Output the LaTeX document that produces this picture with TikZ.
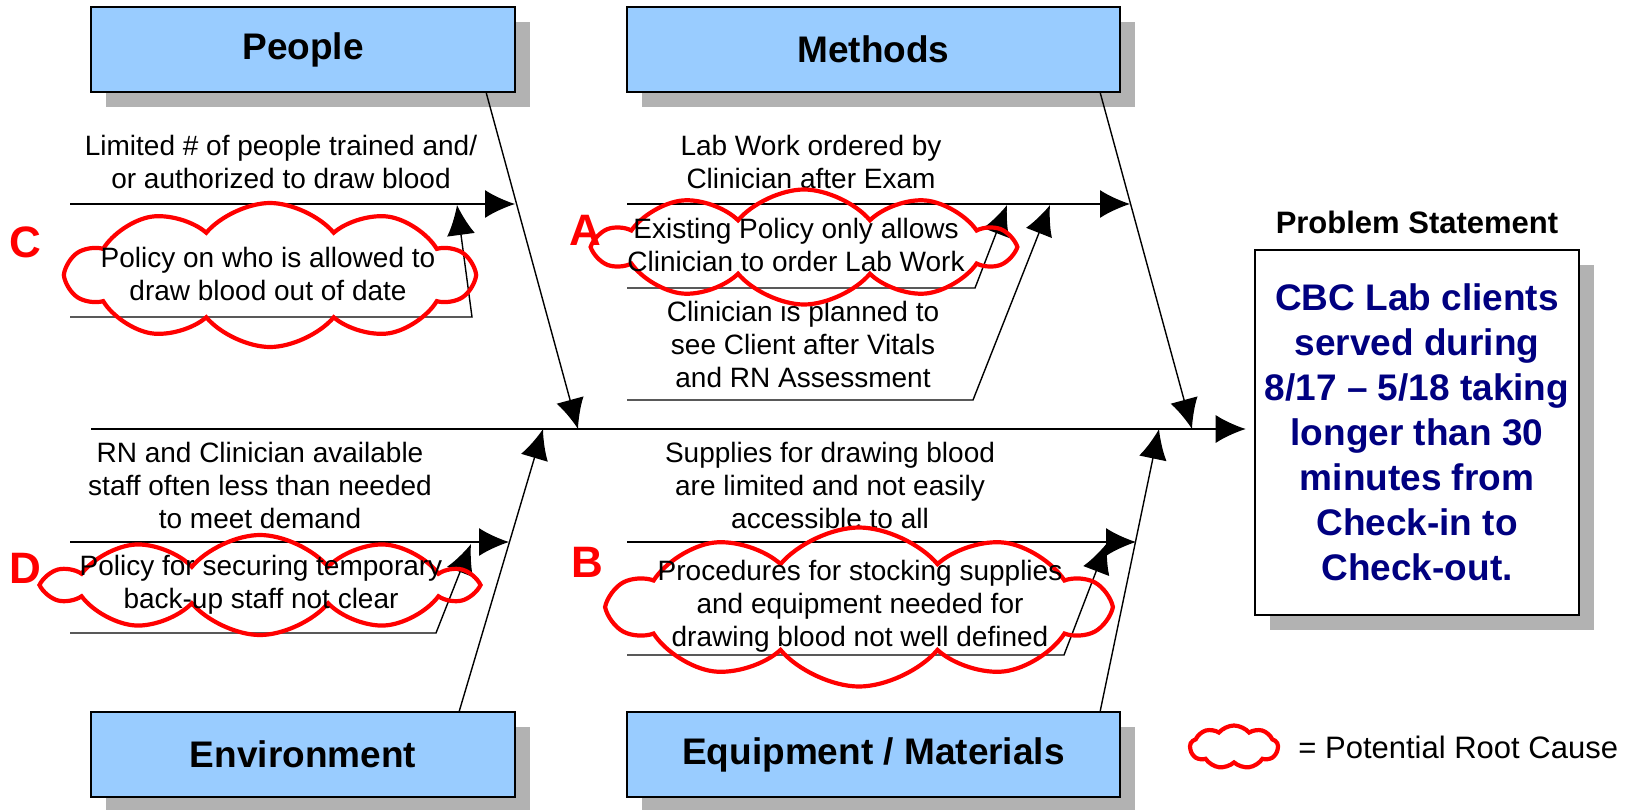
\documentclass[tikz,border=0pt]{standalone}
\usepackage{fontspec}
\setmainfont{Liberation Sans}
\usetikzlibrary{shapes.symbols,shadows,arrows.meta}
\definecolor{boxblue}{HTML}{99CCFF}
\definecolor{shade}{HTML}{B2B2B2}
\definecolor{navy}{HTML}{000080}
\definecolor{rootred}{HTML}{FF0000}
\begin{document}
\begin{tikzpicture}[x=0.5pt,y=-0.5pt,
  hdr/.style={draw=black, line width=1.3pt, fill=boxblue, minimum height=42.5pt, inner sep=0pt,
    font=\fontsize{18.5}{22}\selectfont\bfseries,
    drop shadow={shadow xshift=7.5pt, shadow yshift=-7.5pt, fill=shade, opacity=1}},
  body/.style={align=center, font=\fontsize{14}{16.5}\selectfont, inner sep=0pt},
  rc/.style={cloud, cloud puffs=10, cloud puff arc=100, cloud ignores aspect, draw=rootred, line width=2.1pt, inner sep=0pt},
  tag/.style={text=rootred, font=\fontsize{22}{24}\selectfont\bfseries, inner sep=0pt},
  conn/.style={line width=0.7pt, -{Latex[length=15pt, width=14pt]}},
  plainline/.style={line width=0.7pt}]
\useasboundingbox (0,0) rectangle (1637,809);

% header boxes
\node[hdr, minimum width=212pt] (people) at (303,49.5) {People};
\node[hdr, minimum width=246.5pt] (methods) at (873.5,49.5) {Methods};
\node[hdr, minimum width=212pt] (env) at (303,754.5) {Environment};
\node[hdr, minimum width=246.5pt] (equip) at (873.5,754.5) {Equipment / Materials};

% problem statement
\node[font=\fontsize{15.5}{18}\selectfont\bfseries, inner sep=0pt] (pstitle) at (1417,222) {Problem Statement};
\node[draw=black, line width=1.3pt, fill=white, minimum width=162pt, minimum height=182.5pt, inner sep=0pt,
  align=center, text=navy, font=\fontsize{18.5}{22.5}\selectfont\bfseries,
  drop shadow={shadow xshift=7.5pt, shadow yshift=-7.5pt, fill=shade, opacity=1}] (prob) at (1417,432.5)
  {CBC Lab clients\\served during\\8/17 -- 5/18 taking\\longer than 30\\minutes from\\Check-in to\\Check-out.};

% spine
\coordinate (spineS) at (91,429);
\draw[conn, shorten >=4pt] (spineS) -- (prob.west |- spineS);

% bone diagonals
\coordinate (peopleB) at (486,92);
\coordinate (peopleT) at (578,429);
\coordinate (methodsB) at (1100,92);
\coordinate (methodsT) at (1192,429);
\coordinate (envB) at (459,712);
\coordinate (envT) at (543,429);
\coordinate (equipB) at (1100,712);
\coordinate (equipT) at (1159,429);
\draw[conn] (peopleB) -- (peopleT);
\draw[conn] (methodsB) -- (methodsT);
\draw[conn] (envB) -- (envT);
\draw[conn] (equipB) -- (equipT);

% main branches
\coordinate (b1s) at (70,204);  \coordinate (b1e) at (515,204);
\coordinate (b2s) at (627,204); \coordinate (b2e) at (1130,204);
\coordinate (b3s) at (70,542);  \coordinate (b3e) at (509,542);
\coordinate (b4s) at (627,542); \coordinate (b4e) at (1136,542);
\draw[conn] (b1s) -- (b1e);
\draw[conn] (b2s) -- (b2e);
\draw[conn] (b3s) -- (b3e);
\draw[conn] (b4s) -- (b4e);

% sub branches
\coordinate (c1) at (70,317);  \coordinate (c2) at (472,317);  \coordinate (c3) at (457,205);
\coordinate (a1) at (627,288); \coordinate (a2) at (975,288);  \coordinate (a3) at (1007,205);
\coordinate (m1) at (627,400); \coordinate (m2) at (973,400);  \coordinate (m3) at (1050,205);
\coordinate (d1) at (70,633);  \coordinate (d2) at (436,633);  \coordinate (d3) at (471,544);
\coordinate (e1) at (627,655); \coordinate (e2) at (1064,655); \coordinate (e3) at (1107,543);
\draw[conn] (c1) -- (c2) -- (c3);
\draw[conn] (a1) -- (a2) -- (a3);
\draw[conn] (m1) -- (m2) -- (m3);
\draw[conn] (d1) -- (d2) -- (d3);
\draw[conn] (e1) -- (e2) -- (e3);

% cause texts
\node[body] (tLim) at (281,162) {Limited \# of people trained and/\\or authorized to draw blood};
\node[body] (tLab) at (811,162) {Lab Work ordered by\\Clinician after Exam};
\node[body] (tPlan) at (803,344) {Clinician is planned to\\see Client after Vitals\\and RN Assessment};
\node[body] (tRN) at (260,485) {RN and Clinician available\\staff often less than needed\\to meet demand};
\node[body] (tSup) at (830,485) {Supplies for drawing blood\\are limited and not easily\\accessible to all};

% root-cause clouds
\node[rc, minimum width=202.5pt, minimum height=72pt] (cloudC) at (270,275) {};
\node[body] (tC) at (268,274) {Policy on who is allowed to\\draw blood out of date};
\node[rc, minimum width=207pt, minimum height=57.5pt] (cloudA) at (804,247) {};
\node[body] (tA) at (796,245) {Existing Policy only allows\\Clinician to order Lab Work};
\node[rc, minimum width=212.5pt, minimum height=50pt] (cloudD) at (260,585) {};
\node[body] (tD) at (261,585) {Policy for securing temporary\\back-up staff not clear};
\node[rc, minimum width=248pt, minimum height=79.5pt] (cloudB) at (859,607) {};
\node[body] (tB) at (860,606) {Procedures for stocking supplies\\and equipment needed for\\drawing blood not well defined};

% tags
\node[tag] (lC) at (25,242) {C};
\node[tag] (lA) at (585,230) {A};
\node[tag] (lD) at (25,568) {D};
\node[tag] (lB) at (587,562) {B};

% legend
\node[rc, cloud puffs=9, minimum width=44pt, minimum height=21.5pt] (legcloud) at (1234,747) {};
\node[anchor=west, inner sep=0pt, font=\fontsize{15.5}{18}\selectfont] (legtext) at (1298,747) {= Potential Root Cause};
\end{tikzpicture}
\end{document}
